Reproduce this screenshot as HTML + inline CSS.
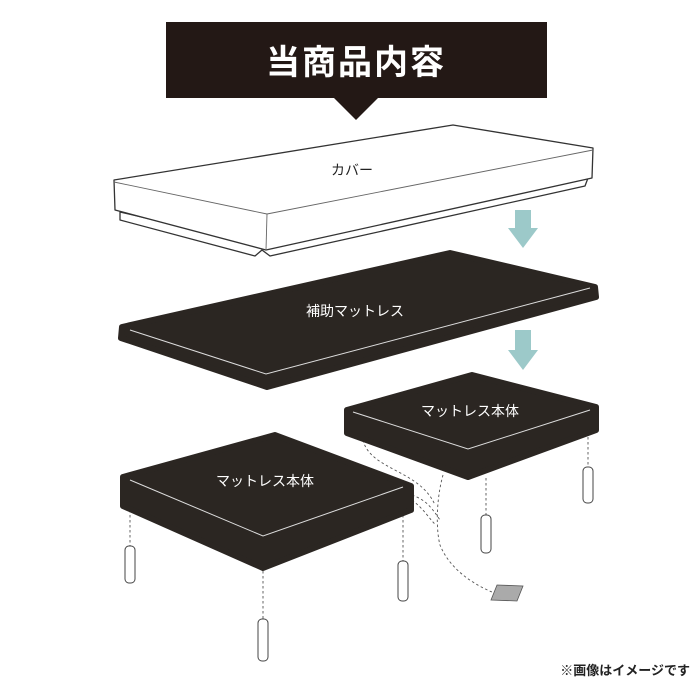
<!DOCTYPE html>
<html><head><meta charset="utf-8"><style>
html,body{margin:0;padding:0;background:#fff}
svg{display:block}
text{font-family:"Liberation Sans","Noto Sans CJK JP",sans-serif}
</style></head><body>
<svg width="700" height="700" viewBox="0 0 700 700" xmlns="http://www.w3.org/2000/svg">
<rect width="700" height="700" fill="#fff"/>
<!-- banner -->
<path d="M166 22H547V98H378L356 120L334 98H166Z" fill="#231815"/>
<text x="356" y="74" font-size="34" font-weight="bold" fill="#fff" text-anchor="middle" letter-spacing="2">当商品内容</text>

<!-- cover -->
<g fill="#fff" stroke="#333" stroke-width="1.3" stroke-linejoin="round">
<path d="M120 220L255 256L262 250L270 256L585 186L588 178L265 246L120 212Z" fill="#fff"/>
<path d="M114 180L453 125L593 148L592 178L266 250L115 210Z"/>
<path d="M114 182L267 214L593 150" fill="none" stroke-width="0.9" stroke="#666"/>
<path d="M267 214L266 250" fill="none" stroke-width="0.9" stroke="#666"/>
</g>
<text x="352" y="175" font-size="14" fill="#222" text-anchor="middle">カバー</text>

<!-- arrows -->
<path d="M515 210H531V228L538 228L523 248L508 228L515 228Z" fill="#9cc9c9"/>
<path d="M515 330H531V350L538 350L523 370L508 350L515 350Z" fill="#9cc9c9"/>

<!-- sub mattress -->
<path d="M122 327L450 253L595 287L596 297L267 387L121 338Z" fill="#2b2622" stroke="#2b2622" stroke-width="6" stroke-linejoin="round"/>
<path d="M130 330L266 374L590 288" fill="none" stroke="#ddd" stroke-width="1"/>
<text x="355" y="316" font-size="14" fill="#fff" text-anchor="middle">補助マットレス</text>

<!-- dashed cables -->
<g fill="none" stroke="#555" stroke-width="0.9" stroke-dasharray="2.5,2.5">
<path d="M363 440C370 470 420 470 435 505"/>
<path d="M412 495C425 500 430 505 440 520"/>
<path d="M412 500C425 510 430 520 436 525"/>
<path d="M443 475C436 500 436 530 440 545C450 570 475 585 492 592"/>
<path d="M130 510V546M403 510V562M263 571V620M486 478V515M588 432V467"/>
</g>

<!-- right mattress -->
<path d="M347 410L472 375L596 407L596 430L468 477L347 433Z" fill="#2b2622" stroke="#2b2622" stroke-width="6" stroke-linejoin="round"/>
<path d="M353 412L468 449L590 410" fill="none" stroke="#ddd" stroke-width="1"/>
<text x="470" y="416" font-size="14" fill="#fff" text-anchor="middle">マットレス本体</text>

<!-- left mattress -->
<path d="M123 477L275 435L411 486L411 510L263 568L123 506Z" fill="#2b2622" stroke="#2b2622" stroke-width="6" stroke-linejoin="round"/>
<path d="M130 480L263 536L403 487" fill="none" stroke="#ddd" stroke-width="1"/>
<text x="265" y="486" font-size="14" fill="#fff" text-anchor="middle">マットレス本体</text>

<!-- legs -->
<g fill="#fff" stroke="#444" stroke-width="1">
<rect x="125" y="546" width="10" height="37" rx="4"/>
<rect x="398" y="561" width="10" height="40" rx="4"/>
<rect x="258" y="619" width="10" height="42" rx="4"/>
<rect x="481" y="515" width="10" height="38" rx="4"/>
<rect x="583" y="467" width="10" height="36" rx="4"/>
</g>
<path d="M497 585L523 586L517 601L491 600Z" fill="#aaa" stroke="#555" stroke-width="0.8"/>

<text x="690" y="675" font-size="13" font-weight="bold" fill="#222" text-anchor="end">※画像はイメージです</text>
</svg>
</body></html>
